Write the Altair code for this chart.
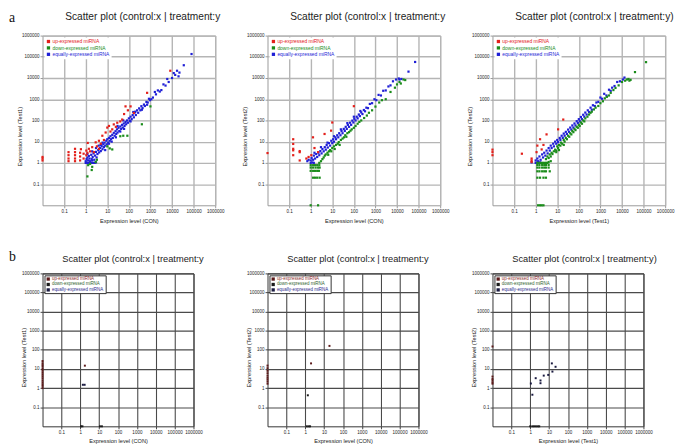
import altair as alt
import pandas as pd

FONT = "Liberation Sans"
CATEGORIES = ["up-expressed miRNA", "down-expressed miRNA", "equally-expressed miRNA"]
COLORS_A = ["#e3201b", "#1a8c1a", "#1f1fd6"]
SYMBOLS_B = ["#5c1a1a", "#1a1a1a", "#1a1a40"]
LABELCOL_B = ["#8c2a2a", "#2f5f2f", "#2a2a8c"]
TICK_VALUES = [0.1, 1, 10, 100, 1000, 10000, 100000, 1000000]
DOMAIN = [0.01, 1000000]
TITLE_FULL = "Scatter plot (control:x | treatment:y)"
TITLE_CUT = "Scatter plot (control:x | treatment:y"
LETTERS = ["a", "b"]

# ---------- panel a1 : CON vs Test1 ----------
A1_EQUAL = [(1, 1), (1.15, 1), (1.3, 1), (1.5, 1), (1.7, 1), (1.9, 1), (2.2, 1), (2.6, 1), (3, 1.05),
            (1, 1.2), (1.1, 1.5), (1.2, 1.8), (1.3, 1.3), (1.4, 2.1), (1.5, 1.6), (1.6, 1.2), (1.8, 2.4),
            (1.9, 1.5), (2.1, 1.9), (2.3, 2.8), (2.5, 1.4), (2.7, 2.2), (3, 3.3), (3.2, 1.8), (3.5, 2.6),
            (3.8, 4), (4.2, 3.1), (4.6, 5), (5, 3.6), (5.5, 6), (6, 4.4), (6.5, 7.5), (7, 5.5), (7.5, 9),
            (8, 6.5), (9, 11), (9.5, 7.5), (10, 13), (11, 9), (12, 15), (13, 11), (14, 18), (15, 13),
            (17, 21), (18, 15), (20, 26), (22, 19), (24, 31), (26, 23), (28, 38), (30, 27), (33, 45),
            (36, 32), (40, 52), (44, 40), (48, 62), (52, 46), (58, 72), (63, 55), (70, 85), (75, 66),
            (82, 100), (90, 78), (100, 125), (110, 95), (120, 150), (135, 115), (150, 180), (170, 140),
            (190, 240), (210, 180), (240, 300), (270, 230), (300, 370), (340, 300), (380, 470), (430, 380),
            (500, 560), (550, 480), (650, 750), (750, 700), (850, 1050), (950, 900), (1100, 1000),
            (1300, 1200), (1600, 2200), (1800, 1700), (2200, 2600), (2700, 2300), (3200, 2700),
            (4000, 5000), (5000, 4400), (6000, 9000), (7000, 6500), (10000, 10000), (12000, 17000),
            (14000, 14000), (17000, 22000), (20000, 12000), (22000, 18000), (35000, 40000), (80000, 135000),
            (1.2, 2.6), (2, 3.5), (4, 6.5), (6, 9), (3, 5), (12, 8), (25, 16), (40, 30), (60, 40), (8, 4),
            (16, 10), (30, 55), (120, 90), (200, 260), (400, 320), (55, 100), (160, 250), (700, 550),
            (2, 1.3), (5, 7)]
A1_UP = [(0.01, 1.3), (0.01, 1.6), (0.01, 1.9), (0.16, 1.2), (0.16, 1.6), (0.16, 2.3), (0.16, 3.2),
         (0.32, 1.2), (0.32, 1.6), (0.32, 2.3), (0.32, 3.2), (0.32, 4.6), (0.55, 1.3), (0.55, 2), (0.55, 3),
         (0.6, 4.4), (0.8, 1.6), (0.8, 2.7), (1.07, 2.3), (1.07, 3.8), (1.2, 3), (1.24, 8.7), (1.4, 4.6),
         (1.6, 3.5), (2, 5.5), (2.4, 3.2), (2.9, 9.3), (3.3, 6), (4.1, 11), (4.1, 4.6), (5, 8), (5.9, 19),
         (7, 12), (8.4, 27), (10, 46), (12, 55), (14, 30), (17, 38), (20, 65), (25, 50), (29, 78), (40, 90),
         (49, 110), (60, 200), (70, 460), (90, 300), (120, 460), (170, 225), (700, 2000), (8300, 22000)]
A1_DOWN = [(1.2, 0.23), (1.9, 0.46), (2, 0.65), (1.3, 0.78), (1.6, 0.9), (2.9, 1.1), (3.3, 1.4), (10, 6),
           (17, 4.3), (13, 4.8), (55, 19), (40, 18), (85, 19), (400, 66), (1000, 460)]

# ---------- panel a2 : CON vs Test2 ----------
A2_EQUAL = [(1, 1), (1.2, 1.05), (1.4, 1), (0.7, 1.2), (0.8, 1.4), (1, 1.3), (1.1, 1.7), (1.3, 1.4),
            (1.4, 2.2), (1.6, 1.6), (1.8, 2.6), (2, 1.9), (2.3, 3), (2.5, 2.3), (2.8, 3.6), (3.2, 2.8),
            (3.5, 4.5), (4, 3.5), (4.5, 5.5), (5, 4.2), (5.5, 7), (6.2, 5.3), (7, 8.5), (8, 6.5), (9, 11),
            (10, 8.5), (11, 13), (12, 10), (14, 16), (15, 13), (17, 20), (19, 16), (21, 25), (24, 20),
            (27, 32), (30, 25), (34, 40), (38, 32), (42, 50), (47, 40), (53, 62), (60, 50), (67, 78),
            (75, 62), (85, 98), (95, 80), (105, 120), (120, 100), (135, 150), (150, 125), (170, 190),
            (190, 160), (220, 240), (250, 200), (290, 310), (330, 270), (380, 400), (450, 380), (550, 600),
            (700, 650), (900, 1000), (1100, 900), (1400, 1600), (1800, 1500), (2300, 2500), (3000, 2600),
            (4000, 4000), (5000, 4500), (6500, 7000), (9000, 8500), (12000, 9500), (13000, 8500),
            (16000, 9000), (34000, 20000), (69000, 57000), (1.5, 3), (3, 5.5), (6, 9), (12, 18), (25, 38),
            (50, 75), (100, 150), (200, 280)]
A2_UP = [(0.01, 2.9), (0.155, 2.3), (0.155, 3.9), (0.155, 4.6), (0.155, 7.8), (0.155, 13), (0.31, 1.3),
         (0.31, 3.2), (0.31, 3.6), (0.63, 1.6), (0.8, 1.9), (1.07, 2.3), (1.28, 16), (1.5, 5), (2.2, 3.2),
         (4.4, 23), (8.8, 33), (10, 80), (100, 470)]
A2_DOWN = [(1, 0.78), (1.3, 0.78), (1.6, 0.78), (2, 0.78), (2.5, 0.78), (1, 0.6), (1.3, 0.6), (1.7, 0.6),
           (2.2, 0.6), (2.6, 0.6), (1, 0.42), (1.3, 0.42), (1.6, 0.42), (2, 0.42), (2.4, 0.42), (1.3, 0.2),
           (1.6, 0.2), (2, 0.2), (2.6, 0.2), (1, 0.01), (2.2, 0.01), (2.5, 1), (3, 1.2), (3.5, 1.5), (4, 1.8),
           (4.5, 2.2), (5, 2.5), (6, 3), (6.5, 2.4), (7, 3.5), (8, 4), (9, 3.5), (10, 5), (12, 6), (13, 4.5),
           (15, 7), (18, 8), (20, 9.5), (22, 7), (25, 12), (30, 14), (35, 16), (40, 20), (45, 17), (50, 25),
           (60, 28), (70, 33), (80, 38), (100, 45), (120, 55), (150, 70), (180, 85), (220, 100), (300, 130),
           (400, 170), (500, 230), (700, 300), (1000, 450), (1500, 700), (2000, 900), (3000, 1000),
           (5000, 2200), (8000, 3500), (10000, 5000), (13000, 6500), (20000, 8500), (24000, 8000),
           (15000, 5500)]

# ---------- panel a3 : Test1 vs Test2 ----------
A3_EQUAL = [(0.65, 1.05), (1, 1), (1.2, 1), (1.4, 1), (1.6, 1.05), (1.8, 1), (1, 1.3), (1.2, 1.6),
            (1.3, 1.2), (1.5, 2), (1.7, 1.4), (2, 2.5), (2.2, 1.8), (2.5, 3), (2.8, 2.2), (3.2, 3.8),
            (3.6, 2.8), (4, 5), (4.5, 3.8), (5, 6.5), (5.5, 5), (6.5, 8), (7, 6), (8, 10), (9, 8), (10, 12),
            (11, 9.5), (13, 15), (14, 12), (16, 19), (18, 15), (20, 24), (22, 19), (25, 29), (28, 23),
            (32, 37), (35, 29), (40, 46), (45, 37), (50, 58), (56, 46), (63, 72), (70, 58), (80, 92),
            (90, 75), (100, 115), (110, 92), (125, 145), (140, 115), (160, 185), (180, 150), (200, 235),
            (230, 190), (260, 300), (300, 250), (350, 400), (400, 320), (450, 520), (550, 480), (650, 700),
            (800, 750), (1000, 1200), (1200, 1050), (1500, 1800), (1900, 1500), (2500, 2800), (3000, 2500),
            (3500, 3500), (4500, 4200), (6000, 6500), (8000, 7000), (11000, 8500), (13000, 10500)]
A3_UP = [(0.01, 2.3), (0.01, 3.2), (0.01, 4.2), (0.23, 2.7), (0.65, 1.1), (0.65, 1.3), (0.65, 1.6),
         (1.1, 3.2), (1.2, 6.5), (1.6, 13), (1.9, 4.3), (2.3, 7), (3.2, 22), (11, 38), (19, 110)]
A3_DOWN = [(1.2, 1), (1.5, 1), (1.8, 1), (2.2, 1), (2.6, 1), (3, 1), (3.5, 1), (4, 1.1), (5, 1.2),
           (1.2, 0.8), (1.5, 0.8), (2, 0.8), (2.5, 0.8), (3, 0.8), (4, 0.8), (1.2, 0.6), (1.5, 0.6),
           (2, 0.6), (2.5, 0.6), (3, 0.6), (4, 0.6), (1.2, 0.4), (1.5, 0.4), (2, 0.4), (2.5, 0.4), (3, 0.4),
           (4.5, 0.4), (1.2, 0.2), (1.6, 0.2), (2.3, 0.2), (3, 0.2), (1.3, 0.01), (1.6, 0.01), (1.9, 0.01),
           (2.3, 0.01), (3, 1.5), (3.5, 2), (4, 1.7), (4.5, 2.5), (5, 2), (5.5, 3), (6, 2.6), (7, 3.5),
           (8, 4.2), (9, 3.8), (10, 6), (11, 5), (12, 7), (14, 6.5), (15, 9), (17, 8), (20, 12), (22, 10),
           (25, 15), (28, 13), (32, 19), (36, 17), (40, 25), (45, 22), (50, 32), (56, 28), (63, 40),
           (70, 35), (80, 50), (90, 45), (100, 62), (110, 55), (125, 80), (140, 70), (160, 100), (180, 90),
           (200, 125), (250, 150), (300, 190), (350, 230), (400, 260), (500, 330), (600, 400), (800, 480),
           (1000, 650), (1300, 800), (1600, 1100), (2000, 1300), (2500, 1500), (3000, 2000), (4000, 2700),
           (5000, 3400), (7000, 4500), (10000, 6500), (14000, 7500), (17000, 8500), (20000, 9000),
           (22000, 7500), (25000, 8200), (40000, 19000), (130000, 56000), (9, 3.2), (12, 4), (20, 7)]

# ---------- panel b1 ----------
B1_EQUAL = [(1.37, 1.49), (1.7, 1.49)]
B1_UP = [(0.01, 1), (0.01, 1.3), (0.01, 1.6), (0.01, 2), (0.01, 2.5), (0.01, 3.2), (0.01, 4), (0.01, 5),
         (0.01, 6.3), (0.01, 8), (0.01, 10), (0.01, 13), (0.01, 16), (0.01, 20), (0.01, 26), (1.75, 14.9)]
B1_DOWN = [(1.1, 0.01), (1.3, 0.01), (11, 0.01), (14, 0.01)]
# ---------- panel b2 ----------
B2_EQUAL = []
B2_UP = [(0.01, 1.7), (0.01, 2.2), (0.01, 2.8), (0.01, 3.5), (0.01, 4.5), (0.01, 6), (0.01, 8),
         (0.01, 11), (0.01, 15), (2.03, 19.6), (19.2, 161)]
B2_DOWN = [(1.37, 0.42), (1.2, 0.01), (1.5, 0.01), (1.8, 0.01)]
# ---------- panel b3 ----------
B3_EQUAL = [(1.08, 1.74), (1.3, 0.45), (1.95, 3.3), (3.5, 2.5), (3.5, 1.8), (5.2, 4.5), (9, 4.9),
            (14, 19.6), (15, 7.3), (22, 13)]
B3_UP = [(0.01, 1.7), (0.01, 2), (0.01, 2.5), (0.01, 3), (0.01, 4), (0.01, 150)]
B3_DOWN = [(1, 0.01), (1.3, 0.01), (1.6, 0.01), (2, 0.01), (2.5, 0.01), (3, 0.01)]

ROW_STYLE = {
    "a": dict(w=175, h=172, grid="#b5b5b5", gw=1.4, border="#999999", tick="#999999", xty=12,
              ytx=-20, yty=102, toff=15.5, tdx=23, tfs=10.3, symbols=COLORS_A, labels=COLORS_A,
              legfs=5, legstroke=None, size=5, letter_y=-13.5),
    "b": dict(w=153, h=155, grid="#4a4a4a", gw=1.1, border="#333333", tick="#444444", xty=11,
              ytx=-16, yty=85, toff=12, tdx=20, tfs=9.4, symbols=SYMBOLS_B, labels=LABELCOL_B,
              legfs=4.5, legstroke="#333333", size=4, letter_y=-13),
}


def frame(equal, up, down):
    rows = []
    for cat, pts in ((CATEGORIES[2], equal), (CATEGORIES[0], up), (CATEGORIES[1], down)):
        for x, y in pts:
            rows.append({"x": x, "y": y, "cat": cat})
    return pd.DataFrame(rows, columns=["x", "y", "cat"])


def panel(df, xtitle, ytitle, title, row, letter=None):
    st = ROW_STYLE[row]
    expr = " : ".join(
        f"datum.label === '{c}' ? '{col}'" for c, col in zip(CATEGORIES[:-1], st["labels"][:-1])
    ) + f" : '{st['labels'][-1]}'"
    common = dict(values=TICK_VALUES, format="~r", labelFontSize=4.6, labelFont=FONT, labelColor="#222222",
                  labelPadding=1, labelOverlap=False, labelFlush=False, labelBound=False, tickSize=2.5,
                  tickColor=st["tick"], domain=False, grid=True, gridColor=st["grid"], gridWidth=st["gw"],
                  titleFont=FONT, titleFontSize=5.7, titleFontWeight="normal", titleColor="#222222")
    leg = dict(orient="top-left", title=None, symbolType="square", symbolSize=11, symbolStrokeWidth=0,
               labelFontSize=st["legfs"], labelFont=FONT, rowPadding=0.5, padding=1.5, offset=1.5,
               fillColor="white", labelColor={"expr": expr}, labelOffset=1.5, labelLimit=300)
    if st["legstroke"]:
        leg["strokeColor"] = st["legstroke"]
    pts = alt.Chart(df).mark_square(size=st["size"], opacity=1).encode(
        x=alt.X("x:Q", scale=alt.Scale(type="log", domain=DOMAIN, nice=False),
                axis=alt.Axis(title=xtitle, titleY=st["xty"], **common)),
        y=alt.Y("y:Q", scale=alt.Scale(type="log", domain=DOMAIN, nice=False),
                axis=alt.Axis(title=ytitle, titleX=st["ytx"], titleY=st["yty"], **common)),
        color=alt.Color("cat:N", scale=alt.Scale(domain=CATEGORIES, range=st["symbols"]),
                        legend=alt.Legend(**leg)),
    )
    title_layer = alt.Chart(pd.DataFrame({"t": [title]})).mark_text(
        font=FONT, fontSize=st["tfs"], align="left", baseline="alphabetic", color="#222222"
    ).encode(text="t:N", x=alt.value(st["tdx"]), y=alt.value(-st["toff"]))
    layers = [pts, title_layer]
    if letter:
        layers.append(
            alt.Chart(pd.DataFrame({"t": [letter]})).mark_text(
                font="Liberation Serif", fontSize=14, align="left", baseline="alphabetic", color="#111111"
            ).encode(text="t:N", x=alt.value(-34), y=alt.value(st["letter_y"]))
        )
    return alt.layer(*layers).properties(
        width=st["w"], height=st["h"],
        view=alt.ViewBackground(stroke=st["border"], strokeWidth=1),
    )


a1 = panel(frame(A1_EQUAL, A1_UP, A1_DOWN), "Expression level (CON)", "Expression level (Test1)", TITLE_CUT, "a", LETTERS[0])
a2 = panel(frame(A2_EQUAL, A2_UP, A2_DOWN), "Expression level (CON)", "Expression level (Test2)", TITLE_CUT, "a")
a3 = panel(frame(A3_EQUAL, A3_UP, A3_DOWN), "Expression level (Test1)", "Expression level (Test2)", TITLE_FULL, "a")
b1 = panel(frame(B1_EQUAL, B1_UP, B1_DOWN), "Expression level (CON)", "Expression level (Test1)", TITLE_CUT, "b", LETTERS[1])
b2 = panel(frame(B2_EQUAL, B2_UP, B2_DOWN), "Expression level (CON)", "Expression level (Test2)", TITLE_CUT, "b")
b3 = panel(frame(B3_EQUAL, B3_UP, B3_DOWN), "Expression level (Test1)", "Expression level (Test2)", TITLE_FULL, "b")

chart = alt.concat(a1, a2, a3, b1, b2, b3, columns=3, spacing={"column": 53, "row": 69},
                   bounds="flush", align="none").resolve_scale(
    color="independent").resolve_legend(color="independent").properties(
    padding={"left": 0, "top": 0, "right": 2, "bottom": 0}, background="white")

chart.save("out.html", embed_options={"renderer": "svg", "actions": False})
